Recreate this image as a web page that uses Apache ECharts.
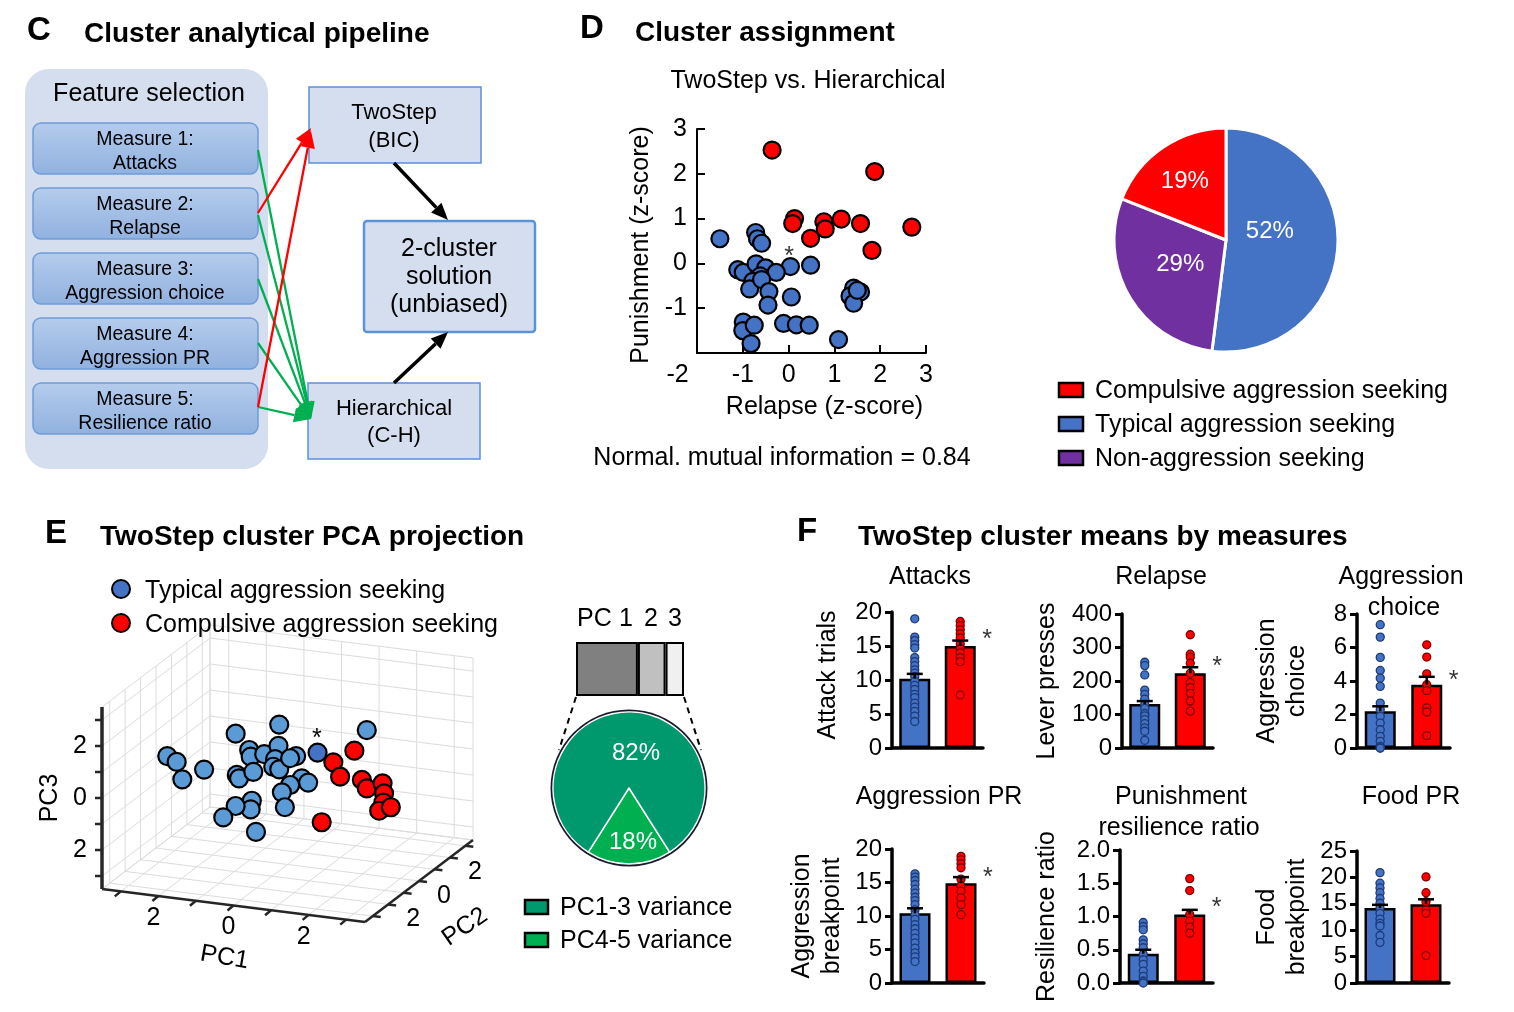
<!DOCTYPE html>
<html>
<head>
<meta charset="utf-8">
<title>Cluster analysis figure</title>
<script src="https://cdn.jsdelivr.net/npm/echarts@6/dist/echarts.min.js"></script>
<style>
html,body{margin:0;padding:0;background:#ffffff;}
#chart{width:1514px;height:1012px;}
</style>
</head>
<body>
<div id="chart"></div>
<script>
// ================= DATA =================
// Panel D scatter: [Relapse z-score, Punishment z-score]
const dTypical = [[-1.5,0.55],[-0.72,0.69],[-0.68,0.55],[-0.59,0.45],[0.04,-0.07],[0.48,-0.04],[-1.11,-0.14],[-0.99,-0.2],[-0.71,-0.01],[-0.5,-0.1],[-0.27,-0.2],[-0.62,-0.28],[-0.78,-0.4],[-0.85,-0.57],[-0.59,-0.36],[-0.43,-0.63],[-0.45,-0.93],[0.06,-0.75],[-0.99,-1.31],[-1.0,-1.5],[-0.75,-1.38],[-0.82,-1.79],[-0.11,-1.34],[0.17,-1.37],[0.45,-1.38],[1.09,-1.7],[1.42,-0.55],[1.57,-0.64],[1.34,-0.73],[1.42,-0.89],[1.5,-0.6]];
const dCompulsive = [[-0.36,2.53],[1.88,2.05],[0.13,1.0],[0.09,0.89],[0.77,0.93],[0.8,0.77],[1.15,0.99],[1.57,0.89],[0.48,0.56],[1.82,0.29],[2.69,0.81]];
const dStar = [[0.01,0.15]];
const nmi = 0.84;

// Panel D pie
const clusterNames = ['Typical aggression seeking','Non-aggression seeking','Compulsive aggression seeking'];
const clusterShares = [52, 29, 19];
const legendOrder = ['Compulsive aggression seeking','Typical aggression seeking','Non-aggression seeking'];

// Panel E PCA projection: [PC1, PC3]
const pcaTypical = [[-3.2,0.09],[-2.95,-0.09],[-2.8,-0.73],[-2.22,-0.25],[-1.38,1.28],[-0.22,1.84],[-1.02,0.72],[-0.98,0.47],[-0.62,0.63],[-0.24,1.02],[-0.33,0.49],[-0.38,0.19],[-0.22,0.12],[0.23,0.71],[0.07,0.6],[-1.35,-0.3],[-1.29,-0.42],[-0.91,-0.1],[0.38,-0.12],[0.55,-0.25],[0.07,-0.43],[-0.15,-0.75],[-0.07,-1.31],[-0.95,-1.22],[-0.98,-1.56],[-1.38,-1.5],[-1.71,-2.0],[-0.84,-2.4],[2.11,2.05]];
const pcaStarred = [[0.8,0.95]];
const pcaCompulsive = [[1.78,1.2],[1.22,0.65],[1.4,0.13],[1.98,0.11],[2.11,-0.19],[2.53,0.08],[2.57,-0.3],[2.55,-0.66],[2.44,-0.99],[2.75,-0.8],[0.91,-1.71]];
const pcaStarMark = [[0.78,1.47]];
const pcTickVals = [-2, 0, 2];
const pcTickText = ['2', '0', '2'];

// PC variance
const pcNames = ['PC1','PC2','PC3'];
const pcShares = [47, 21, 14];
const varNames = ['PC4-5 variance','PC1-3 variance'];
const varShares = [18, 82];

// Panel F
const groups = ['Typical','Compulsive'];
const attacksTypical = [19.0,16.3,15.8,15.2,14.7,13.3,12.7,12.1,11.5,11.0,10.5,9.8,9.2,8.6,7.9,7.4,6.6,6.0,5.4,4.7,3.9];
const attacksCompulsive = [18.6,18.0,17.4,16.8,16.2,15.3,14.6,14.0,13.3,12.7,7.8];
const attacksMean = [10.2, 15.0];
const attacksSem = [0.7, 0.8];
const attacksStar = [15.8];

const relapseTypical = [256,246,218,173,160,146,130,118,103,96,85,73,60,50,23];
const relapseCompulsive = [338,280,271,253,223,195,180,163,140,110];
const relapseMean = [131, 223];
const relapseSem = [9, 18];
const relapseStar = [240];

const choiceTypical = [7.36,6.62,5.41,4.63,4.17,3.68,2.68,2.29,1.89,1.49,1.09,0.7,0.4,0.1,0,0];
const choiceCompulsive = [6.16,5.43,4.43,3.78,3.42,2.39,2.15,0.74];
const choiceMean = [2.19, 3.78];
const choiceSem = [0.3, 0.47];
const choiceStar = [3.97];

const aggPRTypical = [16.3,15.8,15.3,14.7,14.0,13.4,12.8,12.3,11.7,10.9,10.2,9.5,8.7,8.1,7.4,6.7,6.0,5.2,4.5,3.9,3.2];
const aggPRCompulsive = [18.9,18.4,17.8,17.2,15.5,14.5,13.7,12.7,11.7,10.2];
const aggPRMean = [10.4, 14.9];
const aggPRSem = [0.75, 0.9];
const aggPRStar = [15.7];

const resilTypical = [0.91,0.85,0.8,0.65,0.59,0.53,0.43,0.35,0.28,0.18,0.1,0.03,0.0];
const resilCompulsive = [1.57,1.39,1.03,0.93,0.84,0.75];
const resilMean = [0.44, 1.03];
const resilSem = [0.06, 0.07];
const resilStar = [1.12];

const foodTypical = [20.9,18.9,18.0,17.1,16.0,15.1,14.2,13.2,12.1,11.3,10.8,9.0,7.7];
const foodCompulsive = [20.1,17.1,15.4,13.8,13.2,5.2];
const foodMean = [14.2, 14.9];
const foodSem = [0.6, 0.95];
const foodStar = [];

// ================= STYLE / LAYOUT =================
const FONT = '"Liberation Sans", Arial, Helvetica, sans-serif';
const BLUE = '#4472c4', RED = '#ff0000', PURPLE = '#7030a0', LBLUE = '#5b9bd5';
const DKGREEN = '#00986d', LTGREEN = '#00b050';
const TY = 2; // baseline nudge for graphic texts
const TITLE = 28;

function txt(x, y, text, size, opt) {
  opt = opt || {};
  const al = opt.align || 'center';
  const el = {
    type: 'text', x: x, y: y + TY, z: 20, silent: true,
    style: {
      text: text, fontSize: size, fontFamily: FONT,
      fontWeight: opt.bold ? 'bold' : 'normal', fill: opt.color || '#000',
      align: al, textAlign: al, verticalAlign: 'middle', textVerticalAlign: 'middle'
    }
  };
  if (opt.rot) el.rotation = opt.rot;
  return el;
}
function arrow(x1, y1, x2, y2, color, w, hl) {
  const a = Math.atan2(y2 - y1, x2 - x1);
  const hw = hl * 0.42;
  const bx = x2 - hl * Math.cos(a), by = y2 - hl * Math.sin(a);
  return [
    {type:'line', z:15, silent:true, shape:{x1:x1, y1:y1, x2:bx, y2:by}, style:{stroke:color, lineWidth:w}},
    {type:'polygon', z:15, silent:true, shape:{points:[[x2,y2],[bx + hw*Math.sin(a), by - hw*Math.cos(a)],[bx - hw*Math.sin(a), by + hw*Math.cos(a)]]}, style:{fill:color}}
  ];
}

const graphics = [];
// ---------- Panel C ----------
graphics.push(txt(27, 29, 'C', 33, {bold:true, align:'left'}));
graphics.push(txt(84, 32, 'Cluster analytical pipeline', TITLE, {bold:true, align:'left'}));
graphics.push({type:'rect', z:5, silent:true, shape:{x:25, y:69, width:243, height:400, r:24}, style:{fill:'#d5deef'}});
graphics.push(txt(149, 92, 'Feature selection', 25));
const measureText = [['Measure 1:','Attacks'],['Measure 2:','Relapse'],['Measure 3:','Aggression choice'],['Measure 4:','Aggression PR'],['Measure 5:','Resilience ratio']];
const boxTops = [123, 188, 253, 318, 383];
const boxGrad = new echarts.graphic.LinearGradient(0, 0, 0, 1, [{offset:0, color:'#b5ccec'},{offset:1, color:'#90b1df'}]);
measureText.forEach((m, i) => {
  graphics.push({type:'rect', z:6, silent:true, shape:{x:33, y:boxTops[i], width:225, height:51, r:8}, style:{fill:boxGrad, stroke:'#6e9cd8', lineWidth:1.5}});
  graphics.push(txt(145, boxTops[i] + 15, m[0], 19.5));
  graphics.push(txt(145, boxTops[i] + 39, m[1], 19.5));
});
graphics.push({type:'rect', z:6, silent:true, shape:{x:309, y:87, width:172, height:76}, style:{fill:'#d5deef', stroke:'#5b8fd9', lineWidth:1.5}});
graphics.push(txt(394, 111, 'TwoStep', 22));
graphics.push(txt(394, 139, '(BIC)', 22));
graphics.push({type:'rect', z:6, silent:true, shape:{x:364, y:221, width:171, height:111, r:3}, style:{fill:'#d5deef', stroke:'#5b93d8', lineWidth:2.5}});
graphics.push(txt(449, 247, '2-cluster', 25));
graphics.push(txt(449, 275, 'solution', 25));
graphics.push(txt(449, 303, '(unbiased)', 25));
graphics.push({type:'rect', z:6, silent:true, shape:{x:308, y:383, width:172, height:76}, style:{fill:'#d5deef', stroke:'#5b8fd9', lineWidth:1.5}});
graphics.push(txt(394, 407, 'Hierarchical', 22));
graphics.push(txt(394, 434, '(C-H)', 22));
[150, 215, 279, 343, 407].forEach(y => graphics.push(...arrow(258, y, 311, 419, '#00b050', 2.3, 17)));
graphics.push(...arrow(258, 213, 311, 128, '#ff0000', 2.3, 17));
graphics.push(...arrow(258, 407, 311, 131, '#ff0000', 2.3, 17));
graphics.push(...arrow(394, 163, 448, 220, '#000000', 3.5, 17));
graphics.push(...arrow(394, 383, 448, 332, '#000000', 3.5, 17));

// ---------- Panel D ----------
graphics.push(txt(580, 27, 'D', 33, {bold:true, align:'left'}));
graphics.push(txt(635, 31, 'Cluster assignment', TITLE, {bold:true, align:'left'}));
graphics.push(txt(808, 79, 'TwoStep vs. Hierarchical', 25));
graphics.push(txt(782, 456, 'Normal. mutual information = ' + nmi.toFixed(2), 25));
const pieColor = {'Typical aggression seeking': BLUE, 'Non-aggression seeking': PURPLE, 'Compulsive aggression seeking': RED};
legendOrder.forEach((n, i) => {
  graphics.push({type:'rect', z:20, silent:true, shape:{x:1059, y:383 + 34*i, width:24, height:14}, style:{fill:pieColor[n], stroke:'#000', lineWidth:2.5}});
  graphics.push(txt(1095, 389 + 34.3*i, n, 25, {align:'left'}));
});

// ---------- Panel E ----------
graphics.push(txt(45, 532, 'E', 33, {bold:true, align:'left'}));
graphics.push(txt(100, 535, 'TwoStep cluster PCA projection', TITLE, {bold:true, align:'left'}));
graphics.push({type:'circle', z:20, silent:true, shape:{cx:121, cy:589, r:9}, style:{fill:BLUE, stroke:'#000', lineWidth:2}});
graphics.push(txt(145, 589, 'Typical aggression seeking', 25, {align:'left'}));
graphics.push({type:'circle', z:20, silent:true, shape:{cx:121, cy:623, r:9}, style:{fill:RED, stroke:'#000', lineWidth:2}});
graphics.push(txt(145, 623, 'Compulsive aggression seeking', 25, {align:'left'}));
graphics.push(txt(577, 617, 'PC', 25, {align:'left'}));
graphics.push(txt(626, 617, '1', 25));
graphics.push(txt(651, 617, '2', 25));
graphics.push(txt(675, 617, '3', 25));
graphics.push({type:'line', z:20, silent:true, shape:{x1:576, y1:697, x2:559, y2:750}, style:{stroke:'#000', lineWidth:2, lineDash:[6,5]}});
graphics.push({type:'line', z:20, silent:true, shape:{x1:684, y1:697, x2:701, y2:750}, style:{stroke:'#000', lineWidth:2, lineDash:[6,5]}});
[[DKGREEN,'PC1-3 variance'],[LTGREEN,'PC4-5 variance']].forEach((it, i) => {
  graphics.push({type:'rect', z:20, silent:true, shape:{x:525, y:900 + 33*i, width:23, height:14}, style:{fill:it[0], stroke:'#000', lineWidth:2.5}});
  graphics.push(txt(560, 906 + 33*i, it[1], 25, {align:'left'}));
});

// ---------- Panel F ----------
graphics.push(txt(797, 530, 'F', 33, {bold:true, align:'left'}));
graphics.push(txt(858, 535, 'TwoStep cluster means by measures', TITLE, {bold:true, align:'left'}));
[[930,575,'Attacks'],[1161,575,'Relapse'],[1401,575,'Aggression'],[1404,606,'choice'],
 [939,795,'Aggression PR'],[1181,795,'Punishment'],[1179,826,'resilience ratio'],[1411,795,'Food PR']]
  .forEach(t => graphics.push(txt(t[0], t[1], t[2], 25)));

// ================= 3D projection helpers (panel E) =================
const P1 = [37.57, -4.71], P2 = [15.43, 11.71], P3 = [0, 26], V0 = [0, 33];
function proj(a, b, c) {
  const s1 = a + 3.5, s2 = b + 3.5, s3 = c + 3.5;
  return [V0[0] + s1*P1[0] + s2*P2[0] + s3*P3[0], V0[1] + s1*P1[1] + s2*P2[1] + s3*P3[1]];
}
function ctext(x, y, text, size, rot) {
  return {type:'text', x:x, y:y, rotation: rot || 0,
    style:{text:text, fontSize:size, fontFamily:FONT, fill:'#000', align:'center', verticalAlign:'middle', textAlign:'center', textVerticalAlign:'middle'}};
}
function frameRender(params, api) {
  const c = (a, b, cc) => api.coord(proj(a, b, cc));
  const ch = [];
  const L = (p, q, st) => ch.push({type:'line', shape:{x1:p[0], y1:p[1], x2:q[0], y2:q[1]}, style:st});
  const gray = {stroke:'#dcdcdc', lineWidth:1};
  [-3.5,-3,-2,-1,0,1,2,3,3.5].forEach(v => {
    L(c(-3.5, v, -3.5), c(-3.5, v, 3.5), gray);
    L(c(-3.5, -3.5, v), c(-3.5, 3.5, v), gray);
    L(c(v, 3.5, -3.5), c(v, 3.5, 3.5), gray);
    L(c(-3.5, 3.5, v), c(3.5, 3.5, v), gray);
    L(c(v, -3.5, -3.5), c(v, 3.5, -3.5), gray);
    L(c(-3.5, v, -3.5), c(3.5, v, -3.5), gray);
  });
  const ax = {stroke:'#262626', lineWidth:2.5};
  L(c(-3.5,-3.5,-3.5), c(-3.5,-3.5,3.5), {stroke:'#262626', lineWidth:3.5});
  L(c(-3.5,-3.5,-3.5), c(3.5,-3.5,-3.5), ax);
  L(c(3.5,-3.5,-3.5), c(3.5,3.5,-3.5), ax);
  for (let v = -3; v <= 3; v++) {
    let p = c(-3.5, -3.5, v); L(p, [p[0] - 7, p[1]], ax);
    p = c(v, -3.5, -3.5); L(p, [p[0] - 6, p[1] + 5], ax);
    p = c(3.5, v, -3.5); L(p, [p[0] + 8, p[1] + 1], ax);
  }
  pcTickVals.forEach((v, i) => {
    let p = c(-3.5, -3.5, v); ch.push(ctext(p[0] - 22, p[1], pcTickText[i], 25));
    p = c(v, -3.5, -3.5); ch.push(ctext(p[0] - 5, p[1] + 22, pcTickText[i], 25));
    p = c(3.5, v, -3.5); ch.push(ctext(p[0] + 25, p[1] + 15, pcTickText[i], 25));
  });
  let p = c(-3.5, -3.5, 0); ch.push(ctext(p[0] - 52, p[1], 'PC3', 25, Math.PI/2));
  p = c(0, -3.5, -3.5); ch.push(ctext(p[0] - 9, p[1] + 52, 'PC1', 25, -0.17));
  p = c(3.5, 0, -3.5); ch.push(ctext(p[0] + 46, p[1] + 46, 'PC2', 25, 0.6));
  return {type:'group', children:ch};
}
function pointRender(fill) {
  return function (params, api) {
    const p = api.coord(proj(api.value(0), 0, api.value(1)));
    return {type:'circle', shape:{cx:p[0], cy:p[1], r:9}, style:{fill:fill, stroke:'#000', lineWidth:2.2}};
  };
}

// ================= AXES / GRIDS =================
const grids = [], xAxes = [], yAxes = [], series = [];
// 0: panel D scatter
grids.push({left:697, top:129, width:229, height:224, outerBoundsMode:'none'});
xAxes.push({gridIndex:0, type:'value', min:-2, max:3, interval:1,
  axisLine:{show:true, onZero:false, lineStyle:{color:'#000', width:2}},
  axisTick:{show:true, inside:true, length:8, lineStyle:{color:'#000', width:2}},
  splitLine:{show:false},
  axisLabel:{fontSize:25, color:'#000', fontFamily:FONT, margin:10,
    formatter: v => v === -2 ? '{m|-2}' : String(v),
    rich:{m:{fontSize:25, color:'#000', fontFamily:FONT, padding:[0,39,0,0]}}},
  name:'Relapse (z-score)', nameLocation:'middle', nameGap:42,
  nameTextStyle:{fontSize:25, color:'#000', fontFamily:FONT, padding:[0,0,0,26]}});
yAxes.push({gridIndex:0, type:'value', min:-2, max:3, interval:1,
  axisLine:{show:true, onZero:false, lineStyle:{color:'#000', width:2}},
  axisTick:{show:true, inside:true, length:8, lineStyle:{color:'#000', width:2}},
  splitLine:{show:false},
  axisLabel:{fontSize:25, color:'#000', fontFamily:FONT, margin:10, showMinLabel:false,
    formatter: v => v === -2 ? '' : String(v)},
  name:'Punishment (z-score)', nameLocation:'middle', nameGap:43, nameRotate:90,
  nameTextStyle:{fontSize:25, color:'#000', fontFamily:FONT, padding:[0,8,0,0]}});
// 1: hidden 3D view plane
grids.push({left:102, top:625, width:371, height:297, outerBoundsMode:'none'});
xAxes.push({gridIndex:1, type:'value', min:0, max:371, show:false});
yAxes.push({gridIndex:1, type:'value', min:0, max:297, show:false});
// 2: PC variance bar
grids.push({left:576, top:642, width:108, height:54, outerBoundsMode:'none'});
xAxes.push({gridIndex:2, type:'value', min:0, max:pcShares.reduce((a, b) => a + b, 0), show:false});
yAxes.push({gridIndex:2, type:'category', data:['PC'], show:false});

// Panel F charts
const fSpecs = [
  {box:[892,612,91,136], max:20, step:5, name:'Attack trials', gap:49, shift:10, typ:attacksTypical, comp:attacksCompulsive, mean:attacksMean, sem:attacksSem, star:attacksStar},
  {box:[1122,614,91,134], max:400, step:100, name:'Lever presses', gap:60, shift:0, typ:relapseTypical, comp:relapseCompulsive, mean:relapseMean, sem:relapseSem, star:relapseStar},
  {box:[1357,614,93,134], max:8, step:2, name:'Aggression\nchoice', gap:45, shift:0, typ:choiceTypical, comp:choiceCompulsive, mean:choiceMean, sem:choiceSem, star:choiceStar},
  {box:[892,849,92,134], max:20, step:5, name:'Aggression\nbreakpoint', gap:45, shift:0, typ:aggPRTypical, comp:aggPRCompulsive, mean:aggPRMean, sem:aggPRSem, star:aggPRStar},
  {box:[1120,850,93,133], max:2, step:0.5, name:'Resilience ratio', gap:58, shift:0, typ:resilTypical, comp:resilCompulsive, mean:resilMean, sem:resilSem, star:resilStar, fmt:v => v.toFixed(1)},
  {box:[1357,851,92,132], max:25, step:5, name:'Food\nbreakpoint', gap:45, shift:0, typ:foodTypical, comp:foodCompulsive, mean:foodMean, sem:foodSem, star:foodStar}
];
fSpecs.forEach((s, k) => {
  const gi = 3 + k;
  grids.push({left:s.box[0], top:s.box[1], width:s.box[2], height:s.box[3], outerBoundsMode:'none'});
  xAxes.push({gridIndex:gi, type:'category', data:groups,
    axisLine:{show:true, lineStyle:{color:'#000', width:3.5}}, axisTick:{show:false}, axisLabel:{show:false}});
  yAxes.push({gridIndex:gi, type:'value', min:0, max:s.max, interval:s.step,
    axisLine:{show:true, lineStyle:{color:'#000', width:3.5}},
    axisTick:{show:true, length:7, lineStyle:{color:'#000', width:3}},
    splitLine:{show:false},
    axisLabel:{fontSize:24, color:'#000', fontFamily:FONT, margin:10, formatter: s.fmt || (v => String(v))},
    name:s.name, nameLocation:'middle', nameGap:s.gap, nameRotate:90,
    nameTextStyle:{fontSize:25, color:'#000', fontFamily:FONT, lineHeight:30, padding:[0,0,0,s.shift]}});
  series.push({type:'bar', xAxisIndex:gi, yAxisIndex:gi, barWidth:31, silent:true, z:2,
    data: s.mean.map((m, i) => ({value:m, itemStyle:{color: i === 0 ? BLUE : RED}})),
    itemStyle:{borderColor:'#000', borderWidth:2.5}});
  series.push({type:'scatter', xAxisIndex:gi, yAxisIndex:gi, silent:true, z:3, symbolSize:8,
    data: s.typ.map(v => [0, v]), itemStyle:{color:BLUE, borderColor:'#1c3a78', borderWidth:1.3, opacity:1}});
  series.push({type:'scatter', xAxisIndex:gi, yAxisIndex:gi, silent:true, z:3, symbolSize:8,
    data: s.comp.map(v => [1, v]), itemStyle:{color:RED, borderColor:'#7a0000', borderWidth:1.3, opacity:1}});
  series.push({type:'custom', xAxisIndex:gi, yAxisIndex:gi, silent:true, z:4,
    data: s.mean.map((m, i) => [i, m, s.sem[i]]),
    renderItem: (params, api) => {
      const b = api.coord([api.value(0), api.value(1)]);
      const t = api.coord([api.value(0), api.value(1) + api.value(2)]);
      return {type:'group', children:[
        {type:'line', shape:{x1:b[0], y1:b[1], x2:t[0], y2:t[1]}, style:{stroke:'#000', lineWidth:2.5}},
        {type:'line', shape:{x1:t[0] - 8, y1:t[1], x2:t[0] + 8, y2:t[1]}, style:{stroke:'#000', lineWidth:2.5}}
      ]};
    }});
  if (s.star.length) {
    series.push({type:'scatter', xAxisIndex:gi, yAxisIndex:gi, silent:true, z:5, symbolSize:0.1,
      itemStyle:{color:'rgba(0,0,0,0)'},
      data: s.star.map(v => [1, v]),
      label:{show:true, formatter:'*', position:'right', distance:22, fontSize:25, color:'#000', fontFamily:FONT}});
  }
});

// ================= SERIES =================
// Panel D scatter
series.push({type:'scatter', xAxisIndex:0, yAxisIndex:0, silent:true, symbolSize:17, z:3,
  data:dTypical, itemStyle:{color:BLUE, borderColor:'#000', borderWidth:2.2, opacity:1}});
series.push({type:'scatter', xAxisIndex:0, yAxisIndex:0, silent:true, symbolSize:17, z:3,
  data:dCompulsive, itemStyle:{color:RED, borderColor:'#000', borderWidth:2.2, opacity:1}});
series.push({type:'scatter', xAxisIndex:0, yAxisIndex:0, silent:true, symbolSize:0.1, z:4,
  itemStyle:{color:'rgba(0,0,0,0)'}, data:dStar,
  label:{show:true, formatter:'*', position:'inside', fontSize:25, color:'#000', fontFamily:FONT}});

// Panel D pie
const dPieShift = [[-15,-12],[5,-6],[-8,-10]];
series.push({type:'pie', center:[1226,240], radius:[0,112], startAngle:90, clockwise:true, silent:true,
  avoidLabelOverlap:false, z:3,
  data: clusterNames.map((n, i) => ({name:n, value:clusterShares[i], itemStyle:{color:pieColor[n]}})),
  itemStyle:{borderColor:'#fff', borderWidth:3},
  label:{show:true, position:'inside', formatter: p => p.value + '%', fontSize:24, color:'#fff', fontFamily:FONT},
  labelLine:{show:false},
  labelLayout: p => ({dx:dPieShift[p.dataIndex][0], dy:dPieShift[p.dataIndex][1]})});

// Panel E 3D frame + points
series.push({type:'custom', xAxisIndex:1, yAxisIndex:1, silent:true, z:1, data:[[0,0]], renderItem:frameRender});
series.push({type:'custom', xAxisIndex:1, yAxisIndex:1, silent:true, z:3, data:pcaTypical, renderItem:pointRender(LBLUE)});
series.push({type:'custom', xAxisIndex:1, yAxisIndex:1, silent:true, z:3, data:pcaStarred, renderItem:pointRender(BLUE)});
series.push({type:'custom', xAxisIndex:1, yAxisIndex:1, silent:true, z:3, data:pcaCompulsive, renderItem:pointRender(RED)});
series.push({type:'custom', xAxisIndex:1, yAxisIndex:1, silent:true, z:4, data:pcaStarMark,
  renderItem: (params, api) => {
    const p = api.coord(proj(api.value(0), 0, api.value(1)));
    return ctext(p[0], p[1], '*', 25);
  }});

// PC variance stacked bar
const pcColors = ['#808080','#c0c0c0','#f0f0f0'];
pcNames.forEach((n, i) => {
  series.push({type:'bar', name:n, xAxisIndex:2, yAxisIndex:2, stack:'pc', barWidth:54, silent:true, z:3,
    data:[pcShares[i]], itemStyle:{color:pcColors[i], borderColor:'#000', borderWidth:2}});
});

// PC variance pie (ring + pie)
series.push({type:'pie', center:[629,788], radius:[0,78.5], silent:true, z:2, data:[{value:1, name:'ring'}],
  itemStyle:{color:'#1b1b2e'}, label:{show:false}, labelLine:{show:false}});
const varShift = [[4,13],[7,6]];
series.push({type:'pie', center:[629,788], radius:[0,76], silent:true, z:3, clockwise:true,
  startAngle: 270 + varShares[0] * 3.6 / 2, avoidLabelOverlap:false,
  data: varNames.map((n, i) => ({name:n, value:varShares[i], itemStyle:{color: i === 0 ? LTGREEN : DKGREEN}})),
  itemStyle:{borderColor:'#fff', borderWidth:1.5},
  label:{show:true, position:'inside', formatter: p => p.value + '%', fontSize:24, color:'#fff', fontFamily:FONT},
  labelLine:{show:false},
  labelLayout: p => ({dx:varShift[p.dataIndex][0], dy:varShift[p.dataIndex][1]})});

const option = {
  animation:false,
  backgroundColor:'#ffffff',
  textStyle:{fontFamily:FONT},
  grid:grids, xAxis:xAxes, yAxis:yAxes, series:series,
  graphic:{elements:graphics}
};
const chart = echarts.init(document.getElementById('chart'), null, {renderer:'canvas', width:1514, height:1012});
chart.setOption(option);
</script>
</body>
</html>
